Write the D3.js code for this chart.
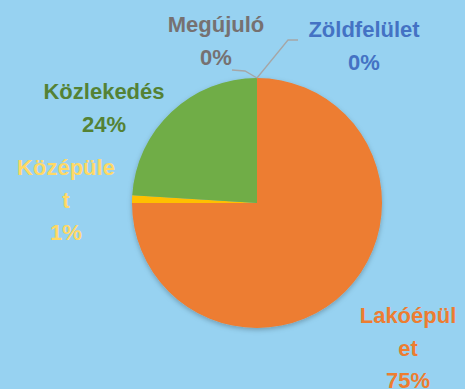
<!DOCTYPE html>
<html>
<head>
<meta charset="utf-8">
<script src="https://cdn.jsdelivr.net/npm/d3@7/dist/d3.min.js"></script>
<style>
  html, body { margin: 0; padding: 0; background: #97D2F1; }
  svg { display: block; }
  text { font-family: "Liberation Sans", Arial, sans-serif; font-weight: bold; }
</style>
</head>
<body>
<svg id="chart" width="465" height="389"></svg>
<script>
// Energy use by sector (share of total, %)
const categories = ["Lakóépület", "Középület", "Közlekedés", "Megújuló", "Zöldfelület"];
const values = [75, 1, 24, 0, 0];
const sliceColors = ["#ED7D31", "#FFC000", "#70AD47", "#A5A5A5", "#4472C4"];
const labelColors = ["#ED7D31", "#FFD966", "#548235", "#767171", "#4472C4"];
// Label text as wrapped lines (category name broken where the box is narrow)
const labelLines = [
  ["Lakóépül", "et", "75%"],
  ["Középüle", "t", "1%"],
  ["Közlekedés", "24%"],
  ["Megújuló", "0%"],
  ["Zöldfelület", "0%"]
];

const W = 465, H = 389;
const cx = 257, cy = 203, R = 125;
const fontSize = 22, lineGap = 32.5;

// Label anchor (centre x, first baseline y) for each slice
const labelPos = [
  { x: 408, y: 323 },
  { x: 66, y: 175 },
  { x: 104, y: 99 },
  { x: 216, y: 32 },
  { x: 364, y: 37 }
];
// Leader-line elbows for the two zero-width slices at the top
const leaders = {
  3: [[245, 71], [232, 70]],
  4: [[288, 40], [298, 40]]
};

const svg = d3.select("#chart");
const defs = svg.append("defs");
const f = defs.append("filter").attr("id", "shadow")
  .attr("x", "-20%").attr("y", "-20%").attr("width", "140%").attr("height", "140%");
f.append("feDropShadow").attr("dx", 0).attr("dy", 2).attr("stdDeviation", 2.5)
  .attr("flood-color", "#000").attr("flood-opacity", 0.25);

const data = categories.map((c, i) => ({ name: c, value: values[i], i }));
const pie = d3.pie().sort(null).value(d => d.value).startAngle(0).endAngle(2 * Math.PI);
const arc = d3.arc().innerRadius(0).outerRadius(R);
const arcs = pie(data);

const g = svg.append("g").attr("transform", `translate(${cx},${cy})`);
g.append("g").attr("filter", "url(#shadow)")
  .selectAll("path")
  .data(arcs.filter(a => a.data.value > 0))
  .join("path")
  .attr("d", arc)
  .attr("fill", d => sliceColors[d.data.i]);

// Leader lines from the slice edge to the label
const line = d3.line();
arcs.forEach(a => {
  const elbows = leaders[a.data.i];
  if (!elbows) return;
  const ang = a.startAngle;
  const start = [cx + Math.sin(ang) * R, cy - Math.cos(ang) * R];
  svg.append("path")
    .attr("d", line([start, ...elbows]))
    .attr("fill", "none")
    .attr("stroke", "#A6A6A6")
    .attr("stroke-width", 1.3);
});

// Labels
data.forEach((d, i) => {
  const t = svg.append("text")
    .attr("text-anchor", "middle")
    .attr("font-size", fontSize)
    .attr("fill", labelColors[i]);
  labelLines[i].forEach((s, k) => {
    t.append("tspan").attr("x", labelPos[i].x).attr("y", labelPos[i].y + k * lineGap).text(s);
  });
});
</script>
</body>
</html>
